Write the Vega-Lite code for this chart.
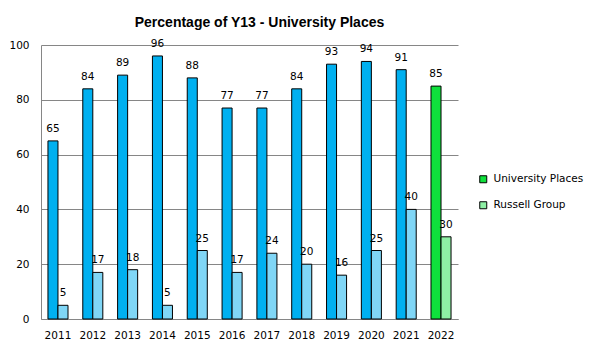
{
  "$schema": "https://vega.github.io/schema/vega-lite/v6.json",
  "width": 417,
  "height": 274,
  "autosize": "none",
  "padding": {"left": 41, "top": 45, "right": 139, "bottom": 35},
  "background": "white",
  "title": {
    "text": "Percentage of Y13 - University Places",
    "font": "Liberation Sans",
    "fontSize": 14,
    "fontWeight": "bold",
    "color": "black",
    "anchor": "middle",
    "dx": 10,
    "dy": 3,
    "offset": 12
  },
  "data": {
    "values": [
      {"year": "2011", "series": "a", "kind": "UP", "value": 65},
      {"year": "2012", "series": "a", "kind": "UP", "value": 84},
      {"year": "2013", "series": "a", "kind": "UP", "value": 89},
      {"year": "2014", "series": "a", "kind": "UP", "value": 96},
      {"year": "2015", "series": "a", "kind": "UP", "value": 88},
      {"year": "2016", "series": "a", "kind": "UP", "value": 77},
      {"year": "2017", "series": "a", "kind": "UP", "value": 77},
      {"year": "2018", "series": "a", "kind": "UP", "value": 84},
      {"year": "2019", "series": "a", "kind": "UP", "value": 93},
      {"year": "2020", "series": "a", "kind": "UP", "value": 94},
      {"year": "2021", "series": "a", "kind": "UP", "value": 91},
      {"year": "2022", "series": "a", "kind": "University Places", "value": 85},
      {"year": "2011", "series": "b", "kind": "RG", "value": 5},
      {"year": "2012", "series": "b", "kind": "RG", "value": 17},
      {"year": "2013", "series": "b", "kind": "RG", "value": 18},
      {"year": "2014", "series": "b", "kind": "RG", "value": 5},
      {"year": "2015", "series": "b", "kind": "RG", "value": 25},
      {"year": "2016", "series": "b", "kind": "RG", "value": 17},
      {"year": "2017", "series": "b", "kind": "RG", "value": 24},
      {"year": "2018", "series": "b", "kind": "RG", "value": 20},
      {"year": "2019", "series": "b", "kind": "RG", "value": 16},
      {"year": "2020", "series": "b", "kind": "RG", "value": 25},
      {"year": "2021", "series": "b", "kind": "RG", "value": 40},
      {"year": "2022", "series": "b", "kind": "Russell Group", "value": 30}
    ]
  },
  "encoding": {
    "x": {
      "field": "year",
      "type": "nominal",
      "scale": {"paddingInner": 0.4245, "paddingOuter": 0.2},
      "axis": {
        "title": null,
        "labelAngle": 0,
        "labelFont": "DejaVu Sans",
        "labelFontSize": 10.5,
        "labelColor": "black",
        "labelPadding": 11,
        "ticks": false,
        "domainColor": "#868686",
        "domainWidth": 1
      }
    },
    "xOffset": {"field": "series", "type": "nominal", "scale": {"paddingInner": 0, "paddingOuter": 0}},
    "y": {
      "field": "value",
      "type": "quantitative",
      "scale": {"domain": [0, 100], "nice": false},
      "axis": {
        "title": null,
        "values": [0, 20, 40, 60, 80, 100],
        "labelFont": "DejaVu Sans",
        "labelFontSize": 10.5,
        "labelColor": "black",
        "labelPadding": 12,
        "ticks": false,
        "grid": true,
        "gridColor": "#868686",
        "gridWidth": 1,
        "domainColor": "#868686",
        "domainWidth": 1
      }
    }
  },
  "layer": [
    {
      "mark": {"type": "bar", "stroke": "black", "strokeWidth": 1},
      "encoding": {
        "color": {
          "field": "kind",
          "type": "nominal",
          "scale": {
            "domain": ["University Places", "Russell Group", "UP", "RG"],
            "range": ["#0FE03C", "#8EEFA4", "#00B0F0", "#80D6F6"]
          },
          "legend": {
            "title": null,
            "values": ["University Places", "Russell Group"],
            "orient": "none",
            "legendX": 437,
            "legendY": 129,
            "symbolType": "square",
            "symbolSize": 49,
            "symbolStrokeColor": "black",
            "symbolStrokeWidth": 1,
            "symbolOpacity": 1,
            "labelFont": "DejaVu Sans",
            "labelFontSize": 10.5,
            "labelColor": "black",
            "labelOffset": 5,
            "rowPadding": 14
          }
        }
      }
    },
    {
      "mark": {"type": "text", "baseline": "alphabetic", "dy": -9, "font": "DejaVu Sans", "fontSize": 10.5, "color": "black"},
      "encoding": {
        "text": {"field": "value", "type": "quantitative"}
      }
    }
  ],
  "config": {
    "view": {"stroke": null}
  }
}
